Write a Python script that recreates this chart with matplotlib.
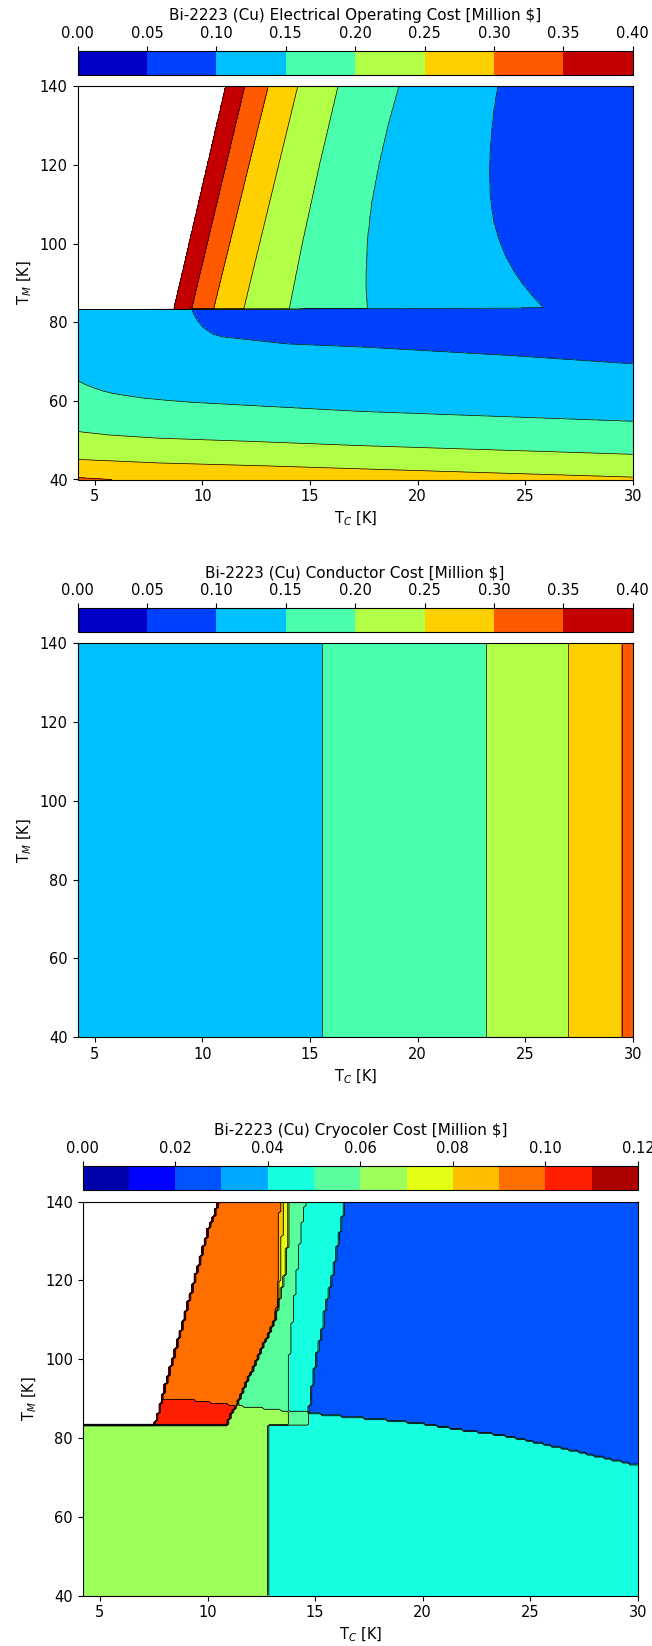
import matplotlib
matplotlib.use("Agg")
import matplotlib.pyplot as plt
import numpy as np

plt.rcParams['font.size'] = 10.5

# ---- data ------------------------------------------------------------------
# model grids (coolant temperature T_C, intermediate temperature T_M)
tc_grid = np.linspace(4.2, 30.0, 301)
tm_grid = np.linspace(40.0, 140.0, 1001)
tc_grid_cc = np.linspace(4.2, 30.0, 221)   # cryocooler lookup grid (coarser)
tm_grid_cc = np.linspace(40.0, 140.0, 201)

# Electrical operating cost: contour levels and where they sit
op_levels = [0.40, 0.35, 0.30, 0.25, 0.20, 0.15, 0.10]
# above the T_M step: (T_M, T_C) along each contour
op_up = [
    ([83.6, 140], [8.69, 11.09]),                                   # 0.40
    ([83.6, 140], [9.51, 11.97]),                                   # 0.35
    ([83.6, 140], [10.53, 13.06]),                                  # 0.30
    ([83.6, 140], [11.93, 14.43]),                                  # 0.25
    ([83.6, 100, 120, 140], [14.04, 14.64, 15.44, 16.30]),          # 0.20
    ([83.6, 90, 100, 110, 120, 130, 140],
     [17.65, 17.60, 17.65, 17.85, 18.20, 18.62, 19.13]),            # 0.15
    ([84, 87, 90, 93, 97, 101, 106, 112, 119, 126, 133, 140],
     [25.80, 25.30, 24.85, 24.48, 24.08, 23.78, 23.52, 23.38, 23.34, 23.40, 23.52, 23.72]),  # 0.10
]
op_up_ends = [0.60, 0.07]          # cost at T_C = 4.2 and T_C = 30
# below the step: (T_C, T_M) along each contour
op_lo_levels = [0.30, 0.25, 0.20, 0.15, 0.10]
op_lo_30 = ([4.2, 5.8, 30], [40.5, 40.0, 37.0])
op_lo_25 = ([4.2, 8.0, 12.7, 17.4, 30], [45.1, 44.2, 43.5, 42.7, 40.6])
op_lo_20 = ([4.2, 5.7, 8.0, 12.7, 17.4, 30], [52.2, 51.3, 50.5, 49.6, 48.6, 46.4])
op_lo_15 = ([4.2, 4.5, 4.97, 5.35, 5.74, 6.5, 7.27, 8.4, 9.58, 12.66, 17.4, 30],
            [65.2, 64.3, 63.25, 62.55, 62.0, 61.3, 60.7, 60.1, 59.6, 58.7, 57.3, 54.8])
op_lo_10 = ([4.2, 9.4, 9.55, 9.6, 9.78, 10.04, 10.48, 10.92, 13.9, 17.4, 24.4, 30],
            [86.0, 84.0, 83.1, 82.1, 80.4, 78.7, 77.0, 76.3, 74.5, 73.7, 71.5, 69.4])
op_lo_ends = [0.35, 0.07]          # cost at T_M = 30 and T_M = 90
op_step_tc = [4.2, 30.0]
op_step_tm = [83.2, 83.7]

# Conductor cost vs T_C (independent of T_M)
cond_tc = [4.2, 15.6, 23.2, 27.0, 29.5, 30.0]
cond_cost = [0.12, 0.15, 0.20, 0.25, 0.30, 0.31]

# Cryocooler cost: band values and band edges
cc_white, cc_red, cc_orange, cc_gold = 0.125, 0.105, 0.095, 0.085
cc_yellow, cc_lime, cc_green, cc_cyan, cc_blue = 0.075, 0.065, 0.055, 0.045, 0.025
cc_rows_tm = [83.2, 86.7, 88.3, 92.6, 100, 109.6, 112, 123, 133, 140]
cc_white_tc = [7.56, 7.73, 7.81, 8.02, 8.40, 8.88, 9.00, 9.55, 10.05, 10.55]
cc_orange_tc = [10.87, 11.18, 11.34, 11.70, 12.31, 13.10, 13.22, 13.30, 13.33, 13.36]
cc_gold_tc = [10.87, 11.18, 11.34, 11.70, 12.31, 13.10, 13.22, 13.40, 13.48, 13.55]
cc_yellow_tc = [10.87, 11.18, 11.34, 11.70, 12.31, 13.10, 13.22, 13.64, 13.75, 13.80]
cc_green_tc = [13.72, 13.72, 13.75, 13.79, 13.80, 13.94, 13.97, 14.17, 14.35, 14.56]
cc_cyan_tc = [14.71, 14.71, 14.75, 14.85, 15.05, 15.40, 15.45, 15.87, 16.18, 16.41]
cc_red_top = ([7.8, 9.2, 11.3], [90.0, 89.6, 88.3])
cc_lime_top = ([11.34, 12.87, 13.72], [88.2, 87.3, 86.8])
cc_patch = (13.72, 14.71, 86.7)    # green patch: T_C from, T_C to, top T_M
cc_step_tm = 83.1
cc_low_edge_tc = 12.79
cc_blue_edge = ([14.71, 16.2, 18.0, 20.0, 22.0, 24.0, 26.0, 28.0, 30.0],
                [86.3, 85.5, 84.7, 83.6, 81.9, 80.4, 78.0, 75.5, 73.0])

titles = ["Bi-2223 (Cu) Electrical Operating Cost [Million \\$]",
          "Bi-2223 (Cu) Conductor Cost [Million \\$]",
          "Bi-2223 (Cu) Cryocoler Cost [Million \\$]"]

# ---- build the fields --------------------------------------------------------
TC, TM = np.meshgrid(tc_grid, tm_grid)

up = np.empty_like(TC)
for i, m in enumerate(tm_grid):
    xs = [np.interp(m, a, b) for a, b in op_up]
    up[i] = np.interp(tc_grid, [4.2] + xs + [30.0],
                      [op_up_ends[0]] + op_levels + [op_up_ends[1]])
lo = np.empty_like(TC)
cross = [np.interp(tc_grid, a, b) for a, b in (op_lo_30, op_lo_25, op_lo_20, op_lo_15, op_lo_10)]
for j in range(len(tc_grid)):
    ms = [30.0] + [c[j] for c in cross] + [90.0]
    lo[:, j] = np.interp(tm_grid, ms, [op_lo_ends[0]] + op_lo_levels + [op_lo_ends[1]])
step = np.interp(TC, op_step_tc, op_step_tm)
z_oper = np.where(TM >= step, up, lo)

z_cond = np.interp(TC, cond_tc, cond_cost)

CC, CM = np.meshgrid(tc_grid_cc, tm_grid_cc)
edge = lambda arr: np.interp(CM, cc_rows_tm, arr)
w, o, g, y, gr, cy = (edge(a) for a in (cc_white_tc, cc_orange_tc, cc_gold_tc,
                                         cc_yellow_tc, cc_green_tc, cc_cyan_tc))
upper = CM >= cc_step_tm
z_cryo = np.full(CC.shape, cc_white)
for lim, val in ((w, cc_orange), (o, cc_gold), (g, cc_yellow), (y, cc_green),
                 (gr, cc_cyan), (cy, cc_blue)):
    z_cryo[upper & (CC >= lim)] = val
z_cryo[upper & (CC >= w) & (CC < o) & (CM < np.interp(CC, *cc_red_top))] = cc_red
z_cryo[upper & (CC >= o) & (CC < cc_patch[0]) & (CM < np.interp(CC, *cc_lime_top))] = cc_lime
z_cryo[upper & (CC >= cc_patch[0]) & (CC < cc_patch[1]) & (CM < cc_patch[2])] = cc_green
z_cryo[~upper] = np.where(CC[~upper] < cc_low_edge_tc, cc_lime, cc_cyan)
right = CC >= cy
z_cryo[right] = np.where(CM[right] > np.interp(CC, *cc_blue_edge)[right], cc_blue, cc_cyan)

# ---- draw --------------------------------------------------------------------
W, H = 652, 1646
fig = plt.figure(figsize=(W / 100, H / 100), dpi=100)


def rect(x0, y0, x1, y1):
    return [x0 / W, 1 - y1 / H, (x1 - x0) / W, (y1 - y0) / H]


def draw_panel(ax_box, cax_box, X, Y, z, levels, ticks, title, lw=0.5):
    ax = fig.add_axes(rect(*ax_box))
    cax = fig.add_axes(rect(*cax_box))
    cf = ax.contourf(X, Y, z, levels=levels, cmap="jet")
    ax.contour(X, Y, z, levels=levels, colors="k", linewidths=lw)
    ax.set_xlim(4.2, 30)
    ax.set_ylim(40, 140)
    ax.set_xticks([5, 10, 15, 20, 25, 30])
    ax.set_yticks([40, 60, 80, 100, 120, 140])
    ax.set_xlabel(r"T$_C$ [K]")
    ax.set_ylabel(r"T$_M$ [K]")
    cb = fig.colorbar(cf, cax=cax, orientation="horizontal", ticks=ticks)
    cax.xaxis.set_ticks_position("top")
    cax.xaxis.set_label_position("top")
    cax.set_xticklabels(["%.2f" % t for t in ticks])
    cb.set_label(title, fontsize=11)


lev8 = np.linspace(0, 0.4, 9)
lev12 = np.linspace(0, 0.12, 13)
draw_panel((77.5, 86.3, 632.7, 479.5), (77.5, 50.5, 632.7, 74.5),
           TC, TM, z_oper, lev8, lev8, titles[0])
draw_panel((77.5, 643.5, 632.7, 1037.0), (77.5, 608.0, 632.7, 632.0),
           TC, TM, z_cond, lev8, lev8, titles[1])
draw_panel((82.7, 1201.5, 637.9, 1595.5), (82.7, 1165.5, 637.9, 1189.5),
           CC, CM, z_cryo, lev12, lev12[::2], titles[2], lw=0.6)

fig.savefig("out.png", dpi=100)
